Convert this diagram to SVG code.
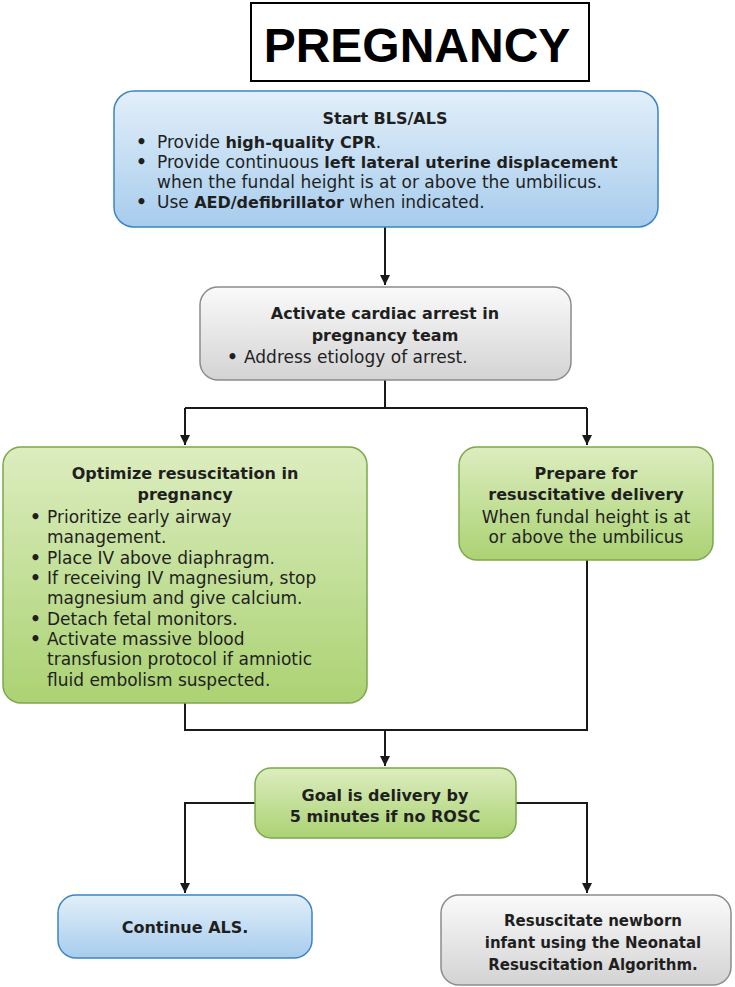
<svg xmlns="http://www.w3.org/2000/svg" width="735" height="987" viewBox="0 0 735 987">
<defs>
<linearGradient id="gBlue" x1="0" y1="0" x2="0" y2="1"><stop offset="0" stop-color="#e2eff9"/><stop offset="1" stop-color="#a7cced"/></linearGradient>
<linearGradient id="gGray" x1="0" y1="0" x2="0" y2="1"><stop offset="0" stop-color="#fafafa"/><stop offset="1" stop-color="#d3d3d3"/></linearGradient>
<linearGradient id="gGreen" x1="0" y1="0" x2="0" y2="1"><stop offset="0" stop-color="#dcedbf"/><stop offset="1" stop-color="#abd273"/></linearGradient>
<marker id="arr" markerWidth="12" markerHeight="12" refX="10" refY="5" orient="auto" markerUnits="userSpaceOnUse"><path d="M0,0 L10,5 L0,10 z" fill="#1a1a1a"/></marker>
<style>
text{font-family:"DejaVu Sans","Liberation Sans",Arial,sans-serif;fill:#1f1f1f;font-size:17px}
.b{font-weight:bold;font-size:16px}
.c{text-anchor:middle}
.d{font-weight:bold}
.blue{fill:url(#gBlue);stroke:#3d84c2;stroke-width:1.5}
.gray{fill:url(#gGray);stroke:#8c8c8c;stroke-width:1.5}
.green{fill:url(#gGreen);stroke:#7ba84a;stroke-width:1.5}
.ln{fill:none;stroke:#1a1a1a;stroke-width:2}
</style>
</defs>
<g id="title">
<rect x="251" y="3" width="338" height="78" fill="#fff" stroke="#000" stroke-width="2"/>
<text x="417" y="62" class="c" style="font-family:'Liberation Sans',Arial,sans-serif;font-weight:bold;font-size:48px;fill:#000">PREGNANCY</text>
</g>
<g id="connectors">
<path class="ln" d="M385,227 V285" marker-end="url(#arr)"/>
<path class="ln" d="M385,380 V408 M185,408 H587"/>
<path class="ln" d="M185,408 V445" marker-end="url(#arr)"/>
<path class="ln" d="M587,408 V445" marker-end="url(#arr)"/>
<path class="ln" d="M185,703 V730 H587 V560"/>
<path class="ln" d="M385,730 V766" marker-end="url(#arr)"/>
<path class="ln" d="M255,803 H185 V893" marker-end="url(#arr)"/>
<path class="ln" d="M516,803 H587 V893" marker-end="url(#arr)"/>
</g>
<g id="n1">
<rect x="114" y="91" width="544" height="136" rx="20" class="blue"/>
<text x="385" y="124"><tspan x="385" class="b c">Start BLS/ALS</tspan><tspan x="136" y="148" class="d">•</tspan><tspan x="157" y="148">Provide <tspan class="b">high-quality CPR</tspan>.</tspan><tspan x="136" y="168" class="d">•</tspan><tspan x="157" y="168">Provide continuous <tspan class="b">left lateral uterine displacement</tspan></tspan><tspan x="157" y="188">when the fundal height is at or above the umbilicus.</tspan><tspan x="136" y="208" class="d">•</tspan><tspan x="157" y="208">Use <tspan class="b">AED/defibrillator</tspan> when indicated.</tspan></text>
</g>
<g id="n2">
<rect x="200" y="287" width="371" height="93" rx="18" class="gray"/>
<text x="385" y="319"><tspan x="385" class="b c">Activate cardiac arrest in</tspan><tspan x="385" y="341" class="b c">pregnancy team</tspan><tspan x="227" y="363" class="d">•</tspan><tspan x="244" y="363">Address etiology of arrest.</tspan></text>
</g>
<g id="n3">
<rect x="3" y="447" width="364" height="256" rx="18" class="green"/>
<text x="185" y="479"><tspan x="185" class="b c">Optimize resuscitation in</tspan><tspan x="185" y="500" class="b c">pregnancy</tspan><tspan x="30" y="523" class="d">•</tspan><tspan x="47" y="523">Prioritize early airway</tspan><tspan x="47" y="543">management.</tspan><tspan x="30" y="564" class="d">•</tspan><tspan x="47" y="564">Place IV above diaphragm.</tspan><tspan x="30" y="584" class="d">•</tspan><tspan x="47" y="584">If receiving IV magnesium, stop</tspan><tspan x="47" y="604">magnesium and give calcium.</tspan><tspan x="30" y="625" class="d">•</tspan><tspan x="47" y="625">Detach fetal monitors.</tspan><tspan x="30" y="645" class="d">•</tspan><tspan x="47" y="645">Activate massive blood</tspan><tspan x="47" y="665">transfusion protocol if amniotic</tspan><tspan x="47" y="686">fluid embolism suspected.</tspan></text>
</g>
<g id="n4">
<rect x="459" y="447" width="254" height="113" rx="18" class="green"/>
<text x="586" y="479" class="c"><tspan x="586" class="b">Prepare for</tspan><tspan x="586" y="500" class="b">resuscitative delivery</tspan><tspan x="586" y="523">When fundal height is at</tspan><tspan x="586" y="543">or above the umbilicus</tspan></text>
</g>
<g id="n5">
<rect x="255" y="768" width="261" height="70" rx="16" class="green"/>
<text x="385" y="801" class="b c"><tspan x="385">Goal is delivery by</tspan><tspan x="385" y="822">5 minutes if no ROSC</tspan></text>
</g>
<g id="n6">
<rect x="58" y="895" width="254" height="63" rx="18" class="blue"/>
<text x="185" y="933" class="b c">Continue ALS.</text>
</g>
<g id="n7">
<rect x="441" y="895" width="290" height="90" rx="18" class="gray"/>
<text x="593" y="926" class="b c" style="font-size:15px"><tspan x="593">Resuscitate newborn</tspan><tspan x="593" y="948">infant using the Neonatal</tspan><tspan x="593" y="970">Resuscitation Algorithm.</tspan></text>
</g>
</svg>
